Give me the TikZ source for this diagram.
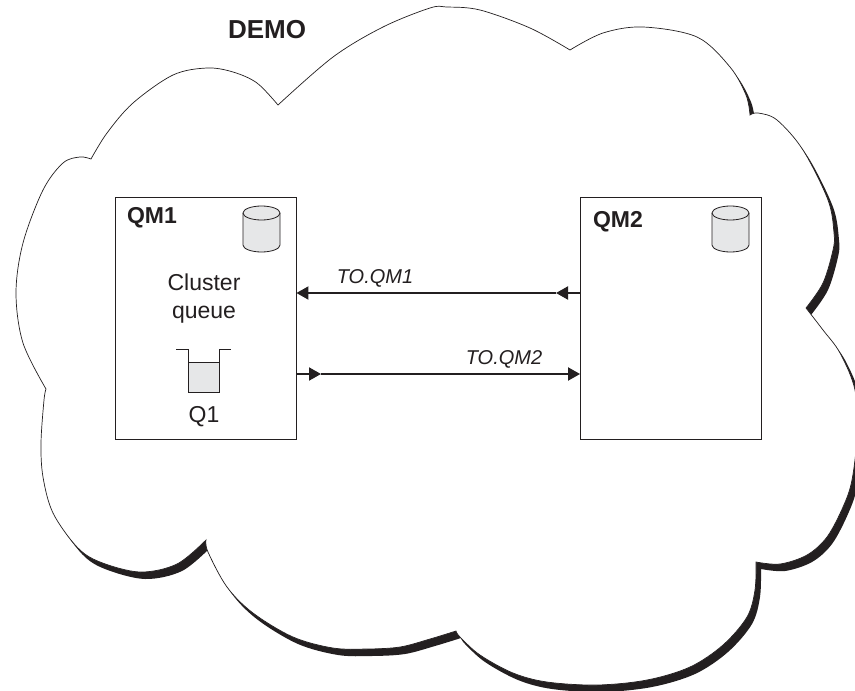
\documentclass[tikz,border=0pt]{standalone}
\usepackage{fontspec}
\setmainfont{Liberation Sans}
\usetikzlibrary{arrows.meta}
\definecolor{ink}{HTML}{231F20}
\definecolor{fillgrey}{HTML}{E6E7E8}
\newcommand{\cloudoutline}{
 plot[smooth,tension=.55] coordinates {(46,389)(44,400)(41,443)(43,477)(53,513)(77,547)(100,562)(140,572)(177,564)(206,540)}
 -- plot[smooth,tension=.55] coordinates {(206,540)(208,552)(227,587)(253,613)(293,637)(333,648)(367,649)(400,647)(430,639)(456,631)}
 -- plot[smooth,tension=.55] coordinates {(456,631)(460,637)(480,655)(513,673)(547,682)(597,685)(647,680)(690,667)(723,645)(747,617)(755,590)(756,562)}
 -- plot[smooth,tension=.55] coordinates {(756,562)(780,564)(807,555)(827,537)(843,507)(852,480)(857,435)(855,390)(840,353)(823,330)(806,308)}
 -- plot[smooth,tension=.55] coordinates {(806,308)(823,283)(833,250)(834,233)(828,200)(803,150)(777,120)(758,113)(750,115)}
 -- plot[smooth,tension=.55] coordinates {(750,115)(746,95)(730,67)(697,37)(643,27)(603,33)(570,50)}
 -- plot[smooth,tension=.55] coordinates {(570,50)(530,28)(480,10)(447,7)(430,8)(383,27)(333,57)(278,105)}
 -- plot[smooth,tension=.55] coordinates {(278,105)(257,83)(233,72)(207,68)(173,75)(133,103)(107,133)(91,159)}
 -- plot[smooth,tension=.55] coordinates {(91,159)(80,157)(63,163)(43,190)(23,243)(16,293)(23,343)(46,389)}
 -- cycle}
\tikzset{
 x=1pt,y=-1pt,
 qmbox/.style={draw=ink,line width=.9pt,fill=white,minimum width=181pt,minimum height=242pt,inner sep=0pt},
 boldlabel/.style={anchor=base,font=\bfseries\fontsize{23}{23}\selectfont,text=ink,inner sep=0pt},
 plainlabel/.style={anchor=base,font=\fontsize{23}{23}\selectfont,text=ink,inner sep=0pt},
 channellabel/.style={anchor=base,font=\itshape\fontsize{20}{20}\selectfont,text=ink,inner sep=0pt},
 channel/.style={draw=ink,line width=1.9pt,-{Triangle[length=12pt,width=13pt]}},
 thin outline/.style={draw=ink,line width=.8pt},
}
\newcommand{\storecyl}[1]{%
 \path[fill=fillgrey] (#1-18.5,213) -- (#1-18.5,245) arc[start angle=180,end angle=360,x radius=18.5,y radius=-7] -- (#1+18.5,213) arc[start angle=0,end angle=180,x radius=18.5,y radius=-7] -- cycle;
 \draw[thin outline] (#1-18.5,213) -- (#1-18.5,245) arc[start angle=180,end angle=360,x radius=18.5,y radius=-7] -- (#1+18.5,213);
 \draw[thin outline] (#1,213) ellipse[x radius=18.5,y radius=7];
}
\begin{document}
\begin{tikzpicture}
\useasboundingbox (0,0) rectangle (855,691);
\fill[ink,shift={(5,7)}] \cloudoutline;
\filldraw[fill=white,draw=ink,line width=.7pt] \cloudoutline;
\node[boldlabel,font=\bfseries\fontsize{26}{26}\selectfont] (demo) at (267,38) {DEMO};
\node[qmbox] (qm1) at (205.5,318) {};
\node[qmbox] (qm2) at (671,318) {};
\node[boldlabel] (qm1label) at (152,223) {QM1};
\node[boldlabel] (qm2label) at (618,227) {QM2};
\storecyl{261.5}
\storecyl{730.5}
\node[plainlabel] (cluster) at (204,290) {Cluster};
\node[plainlabel] (queue) at (204,318) {queue};
\node[plainlabel] (q1) at (204,422) {Q1};
\fill[fillgrey] (188,362) rectangle (219,392);
\draw[thin outline,line width=.9pt] (176,349) -- (188,349) -- (188,392) -- (219,392) -- (219,349) -- (231,349);
\draw[thin outline] (188,362) -- (219,362);
\coordinate (inA) at (qm1.east |- 0,293);
\coordinate (outA) at (qm2.west |- 0,293);
\coordinate (midA) at (556,293);
\coordinate (outB) at (qm1.east |- 0,374);
\coordinate (inB) at (qm2.west |- 0,374);
\coordinate (midB) at (321,374);
\draw[channel] (outA) -- (midA);
\draw[channel] (midA) -- (inA);
\draw[channel] (outB) -- (midB);
\draw[channel] (midB) -- (inB);
\node[channellabel] (toqm1) at (375,283) {TO.QM1};
\node[channellabel] (toqm2) at (504,364) {TO.QM2};
\end{tikzpicture}
\end{document}
